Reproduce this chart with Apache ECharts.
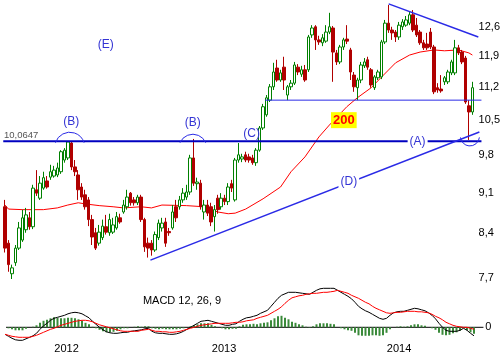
<!DOCTYPE html>
<html><head><meta charset="utf-8">
<script src="https://cdn.jsdelivr.net/npm/echarts@6/dist/echarts.min.js"></script>
<style>html,body{margin:0;padding:0;background:#fff}#c{width:503px;height:360px}</style>
</head><body><div id="c"></div>
<script>
// ---- price data (weekly candles) ----
const open = [8.85,8.24,7.76,7.93,8.16,8.29,8.46,8.66,8.51,9.15, 9.00,9.18,9.31,9.38,9.40,9.42,9.48,9.70,9.74,10.03,
  9.57,9.42,9.20,9.06,8.97,8.63,8.41,8.24,8.33,8.51, 8.41,8.42,8.49,8.66,8.76,8.85,9.09,8.97,8.92,9.02,
  8.63,8.24,8.24,8.13,8.33,8.49,8.59,8.43,8.49,8.85, 8.85,8.97,9.02,9.11,9.74,9.26,9.27,8.76,8.88,8.85,
  8.68,9.00,8.85,9.00,8.94,9.26,8.97,9.70,9.72,9.80, 9.76,9.74,9.65,9.89,10.33,10.60,10.91,11.20,11.62,11.35,
  11.64,11.02,11.20,11.28,11.64,11.48,11.58,11.58,12.40,12.60, 12.28,12.21,12.25,12.47,12.57,11.97,11.76,12.11,12.30,12.04,
  11.46,11.18,11.35,11.67,11.81,11.58,11.18,11.40,11.42,12.23, 12.69,12.52,12.47,12.35,12.60,12.64,12.69,12.90,12.64,12.47,
  12.21,12.18,12.47,12.11,11.18,11.15,11.31,11.31,11.51,11.51, 12.09,11.99,11.85,10.79,10.66];
const close = [8.16,7.90,7.85,8.16,8.49,8.66,8.71,8.51,9.18,9.09, 9.27,9.37,9.20,9.48,9.51,9.55,9.86,9.89,10.05,9.57,
  9.48,9.15,9.02,8.85,8.63,8.34,8.16,8.42,8.52,8.42, 8.63,8.54,8.68,8.59,8.88,9.02,8.92,8.92,9.02,8.63,
  8.18,8.16,8.13,8.38,8.57,8.57,8.24,8.41,8.76,8.66, 8.97,9.09,9.11,9.74,9.27,9.29,8.85,8.88,8.74,8.59,
  8.80,8.80,9.00,8.94,9.20,9.18,9.70,9.80,9.76,9.70, 9.70,9.65,9.89,10.33,10.77,10.96,11.20,11.53,11.35,11.51,
  11.35,11.20,11.28,11.69,11.53,11.58,11.35,12.35,12.57,12.28, 12.23,12.33,12.47,12.60,11.99,11.76,12.11,12.28,12.25,11.53,
  11.20,11.35,11.69,11.76,11.64,11.24,11.42,11.53,12.23,12.69, 12.52,12.45,12.35,12.64,12.72,12.77,12.90,12.52,12.40,12.21,
  12.09,12.09,12.11,11.09,11.13,11.11,11.40,11.53,11.76,12.09, 11.97,11.76,10.87,10.66,11.18];
const high = [8.97,8.29,7.90,8.21,8.59,8.80,8.83,8.76,9.24,9.51, 9.40,9.48,9.40,9.61,9.59,9.65,9.89,9.93,10.06,10.06,
  9.70,9.51,9.27,9.15,9.02,8.71,8.49,8.54,8.63,8.71, 8.73,8.66,8.76,8.73,8.97,9.15,9.11,9.02,9.06,9.06,
  8.66,8.33,8.29,8.43,8.63,8.66,8.66,8.49,8.88,8.97, 9.04,9.18,9.24,9.80,10.11,9.37,9.33,8.97,8.97,8.92,
  8.88,9.06,9.09,9.06,9.27,9.33,9.74,10.03,9.82,9.86, 9.82,9.80,9.93,10.37,10.83,11.02,11.26,11.74,11.81,11.58,
  11.88,11.24,11.35,11.76,11.71,11.67,11.69,12.40,12.64,12.64, 12.38,12.42,12.64,12.95,12.62,12.04,12.16,12.33,12.64,12.09,
  11.53,11.40,11.76,11.85,11.88,11.62,11.46,11.58,12.28,12.77, 13.15,12.60,12.52,12.72,12.79,12.87,12.97,13.02,12.82,12.52,
  12.28,12.45,12.57,12.16,11.28,11.46,11.44,11.58,11.81,12.28, 12.16,12.04,11.90,10.91,11.31];
const low = [8.09,7.79,7.68,7.88,8.13,8.26,8.41,8.46,8.47,9.04, 8.97,9.15,9.17,9.33,9.37,9.38,9.44,9.65,9.70,9.51,
  9.40,8.97,8.97,8.80,8.52,8.21,8.13,8.20,8.29,8.38, 8.36,8.39,8.46,8.56,8.73,8.80,8.87,8.87,8.88,8.59,
  8.10,8.01,8.04,8.10,8.29,8.43,8.18,8.36,8.46,8.59, 8.80,8.92,8.97,9.06,9.22,9.15,8.80,8.63,8.69,8.52,
  8.43,8.73,8.80,8.88,8.88,9.11,8.94,9.65,9.66,9.66, 9.65,9.61,9.59,9.86,10.29,10.56,10.87,11.13,11.31,11.31,
  11.13,10.91,11.13,11.24,11.46,11.42,11.31,11.53,12.33,12.04, 12.16,12.13,12.21,12.42,11.31,11.69,11.71,12.04,12.18,11.35,
  11.09,10.91,11.28,11.62,11.58,11.18,11.13,11.35,11.37,12.18, 12.45,12.28,12.23,12.28,12.52,12.60,12.64,12.47,12.35,12.16,
  12.04,12.04,12.06,11.04,11.07,11.07,11.24,11.26,11.46,11.46, 11.92,11.71,10.83,10.09,10.60];

// 200-day moving average, read at these candle positions
const maIndex = [0,1,5,8,11,15,18,21,23,27,31,34,39,42,45,52,57,61,64,66,69,74,79,82,86,90,93,98,101,105,108,112,116,119,123,126,130,133,134];
const maValue = [8.88,8.81,8.80,8.80,8.80,8.83,8.88,8.92,8.90,8.87,8.85,8.83,8.85,8.83,8.88,8.87,8.85,8.76,8.73,8.74,8.81,8.99,9.20,9.48,9.76,10.15,10.39,10.77,10.96,11.18,11.42,11.74,11.92,11.99,12.04,12.02,12.04,11.97,11.92];

// MACD 12,26,9
const macdLine = [-0.14,-0.18,-0.22,-0.25,-0.26,-0.26,-0.23,-0.20,-0.17,-0.12,
  -0.04,0.03,0.08,0.14,0.18,0.20,0.22,0.24,0.27,0.29, 0.30,0.29,0.27,0.23,0.19,0.12,0.06,0.00,-0.05,-0.09,
  -0.11,-0.12,-0.12,-0.11,-0.10,-0.10,-0.08,-0.07,-0.06,-0.05, -0.03,-0.02,-0.08,-0.11,-0.12,-0.12,-0.13,-0.14,-0.14,-0.13,
  -0.11,-0.08,-0.04,0.00,0.04,0.08,0.12,0.13,0.14,0.12, 0.10,0.08,0.06,0.04,0.04,0.06,0.07,0.12,0.16,0.19,
  0.20,0.22,0.24,0.28,0.31,0.34,0.42,0.50,0.58,0.64, 0.67,0.70,0.70,0.70,0.69,0.68,0.67,0.66,0.70,0.74,
  0.77,0.78,0.78,0.78,0.78,0.74,0.70,0.66,0.62,0.57, 0.50,0.42,0.37,0.33,0.30,0.26,0.22,0.18,0.16,0.18,
  0.24,0.29,0.31,0.32,0.32,0.34,0.36,0.38,0.37,0.35, 0.33,0.29,0.24,0.17,0.08,0.00,-0.06,-0.08,-0.08,-0.08,
  -0.06,-0.02,-0.06,-0.12,-0.17];
const signalLine = [-0.14,-0.16,-0.18,-0.19,-0.20,-0.20,-0.20,-0.20,-0.18,-0.16,
  -0.13,-0.10,-0.07,-0.04,-0.02,0.01,0.04,0.06,0.08,0.10, 0.12,0.13,0.14,0.14,0.13,0.11,0.08,0.05,0.03,0.01,
  -0.01,-0.03,-0.05,-0.07,-0.08,-0.08,-0.08,-0.08,-0.08,-0.06, -0.05,-0.04,-0.06,-0.08,-0.08,-0.09,-0.09,-0.10,-0.10,-0.09,
  -0.08,-0.06,-0.04,-0.02,0.00,0.02,0.04,0.05,0.06,0.07, 0.08,0.08,0.08,0.08,0.08,0.09,0.10,0.10,0.11,0.13,
  0.14,0.15,0.18,0.20,0.22,0.24,0.28,0.32,0.36,0.41, 0.48,0.54,0.59,0.61,0.63,0.64,0.66,0.67,0.68,0.68,
  0.69,0.70,0.70,0.71,0.72,0.74,0.72,0.70,0.68,0.64, 0.61,0.58,0.54,0.50,0.47,0.42,0.38,0.35,0.32,0.29,
  0.28,0.29,0.30,0.30,0.31,0.32,0.32,0.32,0.31,0.31, 0.30,0.29,0.26,0.22,0.19,0.15,0.10,0.07,0.04,0.02,
  0.01,0.00,0.00,-0.02,-0.04];

// axes / ticks
const yTicks = [12.6, 11.9, 11.2, 10.5, 9.8, 9.1, 8.4, 7.7];
const yMin = 7.635, yMax = 13.228;
const yearPos = [17.6, 62.6, 112.6];
const yearLabels = ['2012', '2013', '2014'];
const slotCount = 138;

// annotations
const levelB = 10.0647;
const levelBSpan = [-0.5, 136.6];
const levelR = 10.91;
const levelRSpan = [74.6, 136.6];
const trendD = [[41.7, 7.97], [136.0, 10.25]];
const trendTop = [[110.0, 13.18], [135.7, 12.35]];
const arcX = [18.57, 53.86, 133.3];
const arcPrice = [10.0647, 10.0647, 10.16];
const annoText = ['(E)', '(B)', '(B)', '(C)', '(A)', '(D)'];
const annoX = [28.86, 19.0, 53.86, 70.7, 118.3, 98.57];
const annoPrice = [12.16, 10.45, 10.43, 10.21, 10.0647, 9.29];
const maTag = {text: '200', x: 97.14, price: 10.49};
const levelTag = {text: '10,0647', x: 0, price: 10.19};
const macdTag = {text: 'MACD 12, 26, 9', x: 39.4, value: 0.52};

// ---- build ----
const ln = Math.log;
const cats = Array.from({length: slotCount}, (_, i) => 'w' + i);
const candleData = open.map((o, i) => [ln(o), ln(close[i]), ln(low[i]), ln(high[i])]);
const maData = maIndex.map((x, i) => [x, ln(maValue[i])]);
const hist = macdLine.map((m, i) => +(m - signalLine[i]).toFixed(3));
const FONT = '"Liberation Sans", Arial, sans-serif';
const BLUE = '#2a2ae6';

const arcSpec = [{r: 15, dy: 6, up: true}, {r: 14, dy: 7, up: true}, {r: 9.5, dy: 0, up: false}];
const annoBg = [null, null, null, null, '#ffffff', '#ffffff'];

const chart = echarts.init(document.getElementById('c'), null, {renderer: 'canvas'});
const hid = {axisLine: {show: false}, axisTick: {show: false}, splitLine: {show: false}};
chart.setOption({
  animation: false,
  backgroundColor: '#ffffff',
  grid: [
    {left: 3.25, top: 2, width: 483, height: 280},
    {left: 3.25, top: 282.3, width: 483, height: 60}
  ],
  xAxis: [
    {type: 'category', gridIndex: 0, data: cats, show: false, position: 'bottom'},
    {type: 'value', gridIndex: 0, min: -0.5, max: slotCount - 0.5, show: false, position: 'top'},
    {type: 'category', gridIndex: 1, data: cats, show: false, position: 'top'},
    Object.assign({type: 'value', gridIndex: 1, position: 'bottom', min: -0.5, max: slotCount - 0.5,
      axisLabel: {customValues: yearPos, margin: 1, fontSize: 11, color: '#000', fontFamily: FONT,
        formatter: v => { let k = 0; yearPos.forEach((p, j) => { if (Math.abs(p - v) < Math.abs(yearPos[k] - v)) k = j; }); return yearLabels[k]; }}
    }, hid)
  ],
  yAxis: [
    Object.assign({type: 'value', gridIndex: 0, position: 'right', min: ln(yMin), max: ln(yMax),
      axisLabel: {customValues: yTicks.map(ln), margin: -6, fontSize: 11, color: '#000', fontFamily: FONT,
        formatter: v => Math.exp(v).toFixed(1).replace('.', ',')}}, hid),
    Object.assign({type: 'value', gridIndex: 1, position: 'right', min: -0.3, max: 0.9,
      axisLabel: {customValues: [0], margin: -1, fontSize: 11, color: '#000', fontFamily: FONT, formatter: () => '0'}}, hid)
  ],
  series: [
    {type: 'line', xAxisIndex: 1, yAxisIndex: 0, data: maData, symbol: 'none', silent: true,
      lineStyle: {color: '#ff0000', width: 1}, z: 2},
    {type: 'candlestick', xAxisIndex: 0, yAxisIndex: 0, data: candleData, barWidth: 3, silent: true,
      itemStyle: {color: '#ffffff', color0: '#b00000', borderColor: '#008000', borderColor0: '#b00000', borderWidth: 1}, z: 3},
    {type: 'line', xAxisIndex: 1, yAxisIndex: 0, symbol: 'none', silent: true, z: 4,
      data: levelBSpan.map(x => [x, ln(levelB)]), lineStyle: {color: '#0000c0', width: 2}},
    {type: 'line', xAxisIndex: 1, yAxisIndex: 0, symbol: 'none', silent: true, z: 4,
      data: levelRSpan.map(x => [x, ln(levelR)]), lineStyle: {color: BLUE, width: 1}},
    {type: 'line', xAxisIndex: 1, yAxisIndex: 0, symbol: 'none', silent: true, z: 4,
      data: trendD.map(p => [p[0], ln(p[1])]), lineStyle: {color: BLUE, width: 1.5}},
    {type: 'line', xAxisIndex: 1, yAxisIndex: 0, symbol: 'none', silent: true, z: 4,
      data: trendTop.map(p => [p[0], ln(p[1])]), lineStyle: {color: BLUE, width: 1.5}},
    {type: 'custom', xAxisIndex: 1, yAxisIndex: 0, silent: true, z: 5,
      data: arcX.map((x, i) => [x, ln(arcPrice[i])]),
      renderItem: (params, api) => {
        const s = arcSpec[params.dataIndex];
        const p = api.coord([api.value(0), api.value(1)]);
        let a0, a1;
        if (s.up) { const a = Math.asin(Math.min(1, (s.dy - 1.5) / s.r)); a0 = Math.PI + a; a1 = 2 * Math.PI - a; }
        else { a0 = 0.1; a1 = Math.PI - 0.1; }
        return {type: 'arc', shape: {cx: p[0], cy: p[1] + s.dy, r: s.r, startAngle: a0, endAngle: a1, clockwise: true},
          style: {stroke: BLUE, fill: 'none', lineWidth: 1}};
      }},
    {type: 'custom', xAxisIndex: 1, yAxisIndex: 0, silent: true, z: 10,
      data: annoX.map((x, i) => [x, ln(annoPrice[i])]),
      renderItem: (params, api) => {
        const i = params.dataIndex;
        const p = api.coord([api.value(0), api.value(1)]);
        return {type: 'text', x: p[0], y: p[1], style: {text: annoText[i], fill: '#3434d4', fontSize: 12, fontFamily: FONT,
          align: 'center', verticalAlign: 'middle', backgroundColor: annoBg[i] || 'transparent', padding: [0, 2]}};
      }},
    {type: 'custom', xAxisIndex: 1, yAxisIndex: 0, silent: true, z: 10,
      data: [[maTag.x, ln(maTag.price)], [levelTag.x, ln(levelTag.price)]],
      renderItem: (params, api) => {
        const p = api.coord([api.value(0), api.value(1)]);
        if (params.dataIndex === 0) {
          return {type: 'text', x: p[0], y: p[1], style: {text: maTag.text, fill: '#ff0000', fontSize: 13, fontWeight: 'bold', fontFamily: FONT,
            align: 'center', verticalAlign: 'middle', backgroundColor: '#ffff00', padding: [2, 2, 1, 2]}};
        }
        return {type: 'text', x: p[0] - 1, y: p[1], style: {text: levelTag.text, fill: '#555555', fontSize: 9.5, fontFamily: FONT,
          align: 'left', verticalAlign: 'middle'}};
      }},
    // MACD panel
    {type: 'line', xAxisIndex: 3, yAxisIndex: 1, symbol: 'none', silent: true, z: 1,
      data: [[0.3, 0], [136.7, 0]], lineStyle: {color: '#000000', width: 1}},
    {type: 'bar', xAxisIndex: 2, yAxisIndex: 1, data: hist, barWidth: 2, silent: true, z: 2,
      itemStyle: {color: '#3a8a3a'}},
    {type: 'line', xAxisIndex: 2, yAxisIndex: 1, data: macdLine, symbol: 'none', silent: true, z: 3,
      lineStyle: {color: '#000000', width: 1}},
    {type: 'line', xAxisIndex: 2, yAxisIndex: 1, data: signalLine, symbol: 'none', silent: true, z: 4,
      lineStyle: {color: '#ff0000', width: 1}},
    {type: 'custom', xAxisIndex: 3, yAxisIndex: 1, silent: true, z: 10,
      data: [[macdTag.x, macdTag.value]],
      renderItem: (params, api) => {
        const p = api.coord([api.value(0), api.value(1)]);
        return {type: 'text', x: p[0], y: p[1], style: {text: macdTag.text, fill: '#000', fontSize: 11, fontFamily: FONT,
          align: 'left', verticalAlign: 'middle'}};
      }}
  ]
});
</script>
</body></html>
